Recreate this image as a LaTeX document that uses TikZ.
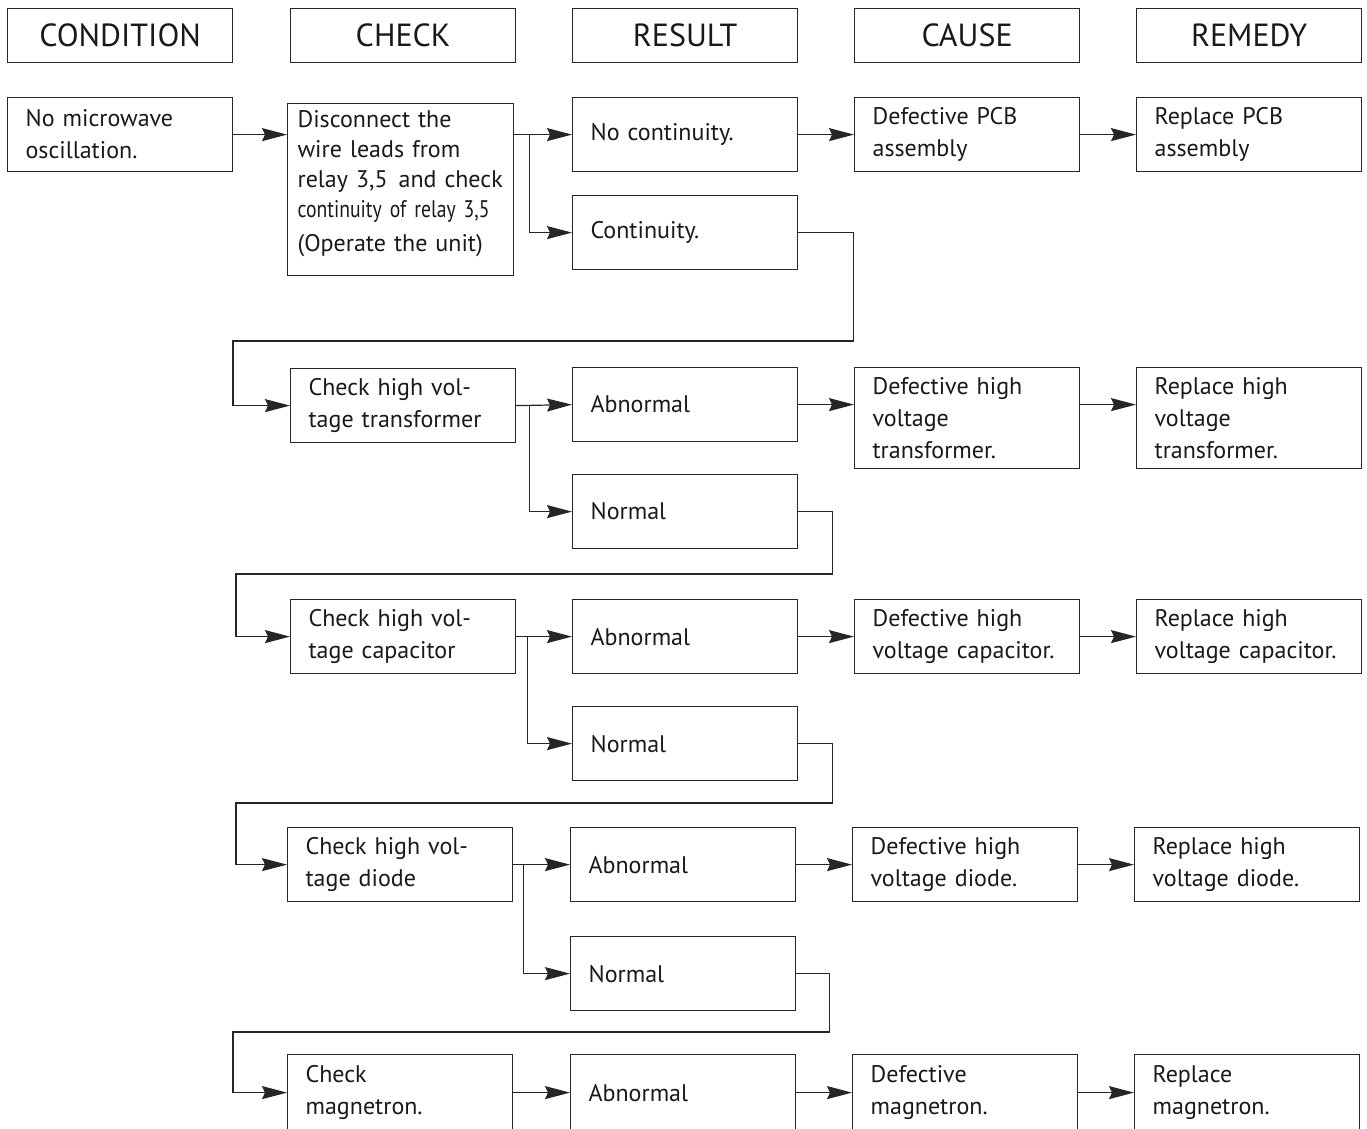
\documentclass[tikz,border=0pt]{standalone}
\usepackage{fontspec}
\setmainfont{PT Sans}
\usetikzlibrary{arrows.meta}
\tikzset{
	x=1pt,
	y=-1pt,
	>={Stealth[length=25pt,width=13pt,inset=3pt]},
	line/.style={
		draw=black!85,
		line width=1.2pt
	},
	box/.style={
		draw=black!85,
		line width=1.2pt,
		anchor=north west,
		minimum width=225pt,
		minimum height=74pt,
		text width=189pt,
		inner xsep=18pt,
		align=left,
		text=black!90,
		font=\fontsize{24}{32}\selectfont
	},
	head/.style={
		draw=black!85,
		line width=1.2pt,
		anchor=north west,
		minimum width=225pt,
		minimum height=54pt,
		text=black!90,
		font=\fontsize{32}{38}\selectfont
	}
}
\begin{document}
\begin{tikzpicture}
	\useasboundingbox (0,0) rectangle (1367,1128);

	\node [head] (hcond) at (7,8) {CONDITION};
	\node [head] (hchk) at (290,8) {CHECK};
	\node [head] (hres) at (572,8) {RESULT};
	\node [head] (hcau) at (854,8) {CAUSE};
	\node [head] (hrem) at (1136,8) {REMEDY};

	\node [box, text width=206pt, inner xsep=10pt, minimum height=172pt,
		font=\fontsize{24}{30}\selectfont] (chk0) at (287,103)
		{Disconnect the\\wire leads from\\\mbox{relay 3,5\hspace{3pt} and check}\\{\addfontfeatures{FakeStretch=0.82}continuity of relay 3,5}\\[4pt](Operate the unit)\\[-12pt]\mbox{}};
	\node [box] (cond) at (7,97) {No microwave\\oscillation.};
	\node [box] (res0a) at (572,97) {No continuity.};
	\node [box] (res0b) at (572,195) {Continuity.};
	\node [box] (cau0) at (854,97) {Defective PCB\\assembly};
	\node [box] (rem0) at (1136,97) {Replace PCB\\assembly};

	\node [box] (chk1) at (290,368) {Check high vol-\\tage transformer};
	\node [box] (res1a) at (572,367) {Abnormal};
	\node [box] (res1b) at (572,474) {Normal};
	\node [box, minimum height=101pt] (cau1) at (854,367) {Defective high\\voltage\\transformer.};
	\node [box, minimum height=101pt] (rem1) at (1136,367) {Replace high\\voltage\\transformer.};

	\node [box] (chk2) at (290,599) {Check high vol-\\tage capacitor};
	\node [box] (res2a) at (572,599) {Abnormal};
	\node [box] (res2b) at (572,706) {Normal};
	\node [box] (cau2) at (854,599) {Defective high\\voltage capacitor.};
	\node [box] (rem2) at (1136,599) {Replace high\\voltage capacitor.};

	\node [box] (chk3) at (287,827) {Check high vol-\\tage diode};
	\node [box] (res3a) at (570,827) {Abnormal};
	\node [box] (res3b) at (570,936) {Normal};
	\node [box] (cau3) at (852,827) {Defective high\\voltage diode.};
	\node [box] (rem3) at (1134,827) {Replace high\\voltage diode.};

	\node [box, minimum height=76pt] (chk4) at (287,1054) {Check\\magnetron.};
	\node [box, minimum height=76pt] (res4) at (570,1054) {Abnormal};
	\node [box, minimum height=76pt] (cau4) at (852,1054) {Defective\\magnetron.};
	\node [box, minimum height=76pt] (rem4) at (1134,1054) {Replace\\magnetron.};

	\coordinate (br0) at ([xshift=15pt]chk0.east |- res0a.west);
	\coordinate (br1) at ([xshift=13pt]chk1.east);
	\coordinate (br2) at ([xshift=11pt]chk2.east);
	\coordinate (br3) at ([xshift=10pt]chk3.east);
	\coordinate (lp1) at (233,341);
	\coordinate (lp2) at (236,574);
	\coordinate (lp3) at (236,803);
	\coordinate (lp4) at (233,1032);

	\draw [line,->] (cond.east) -- (cond.east -| chk0.west);
	\draw [line,->] (res0a.west -| chk0.east) -- (res0a.west);
	\draw [line,->] (br0) |- (res0b.west);
	\draw [line,->] (res0a.east) -- (cau0.west);
	\draw [line,->] (cau0.east) -- (rem0.west);
	\draw [line,->] (res0b.east) -- ++(55,0) |- (lp1) |- (chk1.west);

	\draw [line,->] (chk1.east) -- (res1a.west);
	\draw [line,->] (br1) |- (res1b.west);
	\draw [line,->] (res1a.east) -- (res1a.east -| cau1.west);
	\draw [line,->] (res1a.east -| cau1.east) -- (res1a.east -| rem1.west);
	\draw [line,->] (res1b.east) -- ++(34,0) |- (lp2) |- (chk2.west);

	\draw [line,->] (chk2.east) -- (res2a.west);
	\draw [line,->] (br2) |- (res2b.west);
	\draw [line,->] (res2a.east) -- (cau2.west);
	\draw [line,->] (cau2.east) -- (rem2.west);
	\draw [line,->] (res2b.east) -- ++(34,0) |- (lp3) |- (chk3.west);

	\draw [line,->] (chk3.east) -- (res3a.west);
	\draw [line,->] (br3) |- (res3b.west);
	\draw [line,->] (res3a.east) -- (cau3.west);
	\draw [line,->] (cau3.east) -- (rem3.west);
	\draw [line,->] (res3b.east) -- ++(33,0) |- (lp4) |- (chk4.west);

	\draw [line,->] (chk4.east) -- (res4.west);
	\draw [line,->] (res4.east) -- (cau4.west);
	\draw [line,->] (cau4.east) -- (rem4.west);
\end{tikzpicture}
\end{document}
